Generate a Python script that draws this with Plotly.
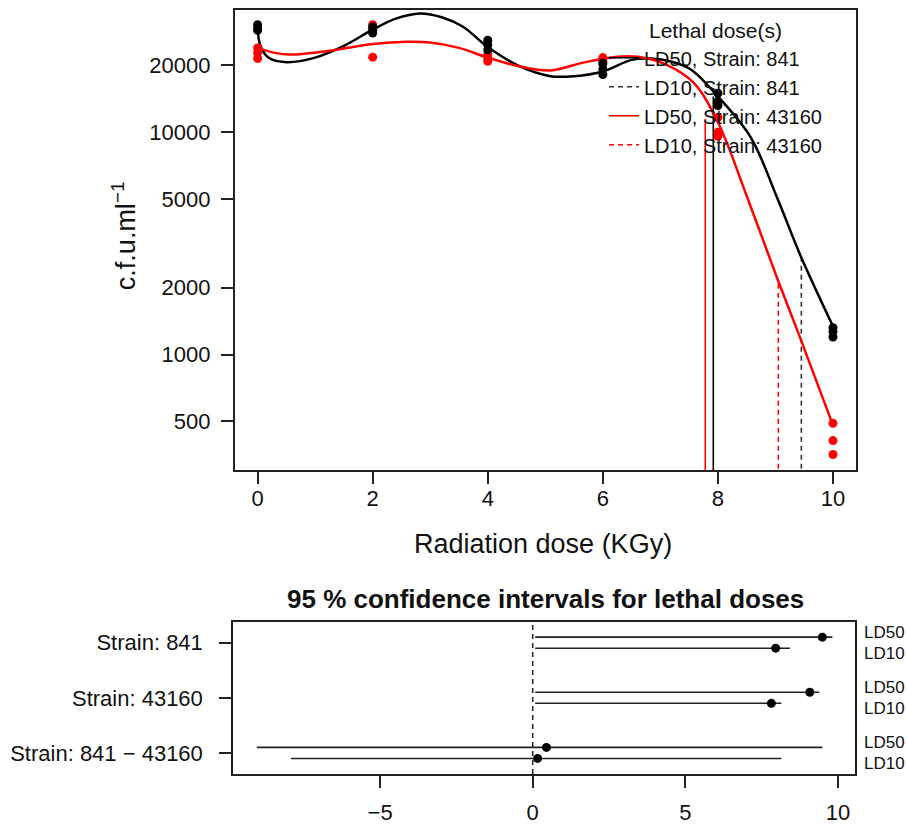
import plotly.graph_objects as go

FONT = "Liberation Sans, Arial, sans-serif"

# --- top panel: survival counts (c.f.u./ml) vs radiation dose
dose = [0, 0, 0, 2, 2, 2, 4, 4, 4, 6, 6, 6, 8, 8, 8, 10, 10, 10]
cfu_841 = [30500, 29500, 28800, 29800, 28800, 28000, 26000, 24800, 23500,
           20500, 19300, 18200, 15000, 13800, 13200, 1320, 1270, 1200]
cfu_43160 = [24000, 22800, 21500, 30500, 29500, 21800, 22400, 21600, 20900,
             21700, 20900, 20300, 11700, 10000, 9600, 490, 410, 355]

# fitted curves
fit_x_841 = [0, 0.05, 0.2, 0.5, 1.0, 1.5, 2.0, 2.4, 2.82, 3.2, 3.57, 4.0, 4.56,
             5.09, 5.5, 6.0, 6.5, 6.83, 7.2, 7.53, 8.0, 8.57, 9.04, 9.44, 10.0]
fit_y_841 = [29500, 24500, 21600, 20700, 21700, 24500, 29000, 32500, 34300, 33000,
             29900, 24200, 19800, 17900, 17900, 18800, 21200, 21500, 20800, 19200,
             14500, 9500, 5000, 2770, 1340]
fit_x_43160 = [0, 0.3, 0.56, 1.25, 2.0, 2.6, 3.0, 3.5, 4.0, 4.56, 5.09, 5.66, 6.25,
               6.6, 7.1, 7.58, 8.0, 8.52, 9.04, 9.44, 10.0]
fit_y_43160 = [24000, 22800, 22400, 23300, 25000, 25600, 25400, 24000, 21700, 19800,
               19000, 20600, 21900, 21900, 20200, 16700, 11100, 5010, 2170, 1170, 480]

# lethal doses drawn as vertical lines
ld_names = ["LD50, Strain: 841", "LD10, Strain: 841",
            "LD50, Strain: 43160", "LD10, Strain: 43160"]
ld_x = [7.92, 9.45, 7.78, 9.05]
ld_top = [14500, 2700, 11500, 2100]
ld_color = ["black", "#333333", "red", "red"]
ld_dash = ["solid", "5px,4px", "solid", "5px,4px"]

y_ticks = [500, 1000, 2000, 5000, 10000, 20000]

# --- bottom panel: 95 % confidence intervals
strains = ["Strain: 841", "Strain: 43160", "Strain: 841 \u2212 43160"]
ld50_est = [9.49, 9.08, 0.45]
ld50_lo = [0.08, 0.08, -9.04]
ld50_hi = [9.82, 9.39, 9.49]
ld10_est = [7.96, 7.82, 0.16]
ld10_lo = [0.08, 0.08, -7.92]
ld10_hi = [8.43, 8.15, 8.15]

W, H = 907, 825
def px(x):
    return x / W
def py(y):
    return 1 - y / H

fig = go.Figure()

# vertical LD lines (also the legend)
for i in range(4):
    fig.add_trace(go.Scatter(
        x=[ld_x[i], ld_x[i]], y=[100, ld_top[i]], mode="lines",
        name=ld_names[i], line=dict(color=ld_color[i], width=1.6, dash=ld_dash[i]),
        xaxis="x", yaxis="y"))

# fitted curves
fig.add_trace(go.Scatter(x=fit_x_841, y=fit_y_841, mode="lines", showlegend=False,
                         line=dict(color="black", width=2.5, shape="spline", smoothing=1.0)))
fig.add_trace(go.Scatter(x=fit_x_43160, y=fit_y_43160, mode="lines", showlegend=False,
                         line=dict(color="red", width=2.5, shape="spline", smoothing=1.0)))

# observations
fig.add_trace(go.Scatter(x=dose, y=cfu_43160, mode="markers", showlegend=False,
                         marker=dict(color="red", size=9)))
fig.add_trace(go.Scatter(x=dose, y=cfu_841, mode="markers", showlegend=False,
                         marker=dict(color="black", size=9)))

# confidence intervals
grp = [1, 2, 3]
pos50 = [g - 0.1 for g in grp]
pos10 = [g + 0.1 for g in grp]
for est, lo, hi, pos in [(ld50_est, ld50_lo, ld50_hi, pos50), (ld10_est, ld10_lo, ld10_hi, pos10)]:
    fig.add_trace(go.Scatter(
        x=est, y=pos, mode="markers", showlegend=False, xaxis="x2", yaxis="y3",
        marker=dict(color="black", size=9),
        error_x=dict(type="data", symmetric=False,
                     array=[h - e for h, e in zip(hi, est)],
                     arrayminus=[e - l for e, l in zip(est, lo)],
                     width=0, thickness=1.6, color="#222222")))

# right-hand LD labels
lab_pos = []
lab_txt = []
for g in grp:
    lab_pos += [g - 0.19, g + 0.19]
    lab_txt += ["LD50", "LD10"]
fig.add_trace(go.Scatter(x=[0] * len(lab_pos), y=lab_pos, mode="markers", opacity=0,
                         showlegend=False, xaxis="x2", yaxis="y4", hoverinfo="skip"))

fig.add_shape(type="line", x0=0, x1=0, y0=0, y1=1, xref="x2", yref="y3 domain",
              line=dict(color="#222222", width=1.5, dash="5px,4px"))

axis_common = dict(showgrid=False, zeroline=False, showline=True, mirror=True,
                   linecolor="#222222", linewidth=1.5, ticks="outside", ticklen=12,
                   tickwidth=1.5, tickcolor="#222222",
                   tickfont=dict(family=FONT, size=22, color="#111111"))

fig.update_layout(
    width=W, height=H,
    margin=dict(l=0, r=0, t=0, b=0),
    paper_bgcolor="white", plot_bgcolor="white",
    font=dict(family=FONT, color="#111111"),
    xaxis=dict(axis_common, domain=[px(234.6), px(856)], range=[-0.4, 10.4],
               tickvals=[0, 2, 4, 6, 8, 10], anchor="y", ticklabelstandoff=-4),
    yaxis=dict(axis_common, domain=[py(472), py(10)], type="log", range=[2.479, 4.551],
               tickvals=y_ticks, ticktext=[str(v) for v in y_ticks], anchor="x",
               ticklabelstandoff=6),
    xaxis2=dict(axis_common, domain=[px(233), px(855)], range=[-9.82, 10.56],
                tickvals=[-5, 0, 5, 10], anchor="y3", ticklabelstandoff=6),
    yaxis3=dict(axis_common, domain=[py(776.7), py(624)], range=[3.38, 0.62],
                tickvals=grp, ticktext=strains, anchor="x2", ticklabelstandoff=12),
    yaxis4=dict(overlaying="y3", side="right", anchor="x2", range=[3.38, 0.62],
                showgrid=False, zeroline=False, showline=False, ticks="",
                tickvals=lab_pos, ticktext=lab_txt, ticklabelstandoff=8,
                tickfont=dict(family=FONT, size=17, color="#111111")),
    legend=dict(x=px(604), y=py(11), xanchor="left", yanchor="top",
                bgcolor="rgba(0,0,0,0)", borderwidth=0,
                font=dict(family=FONT, size=20, color="#111111"),
                title=dict(text="Lethal dose(s)", side="top center",
                           font=dict(family=FONT, size=21, color="#111111"))),
    annotations=[
        dict(text="c.f.u.ml<sup>\u22121</sup>", x=px(124), y=py(237),
             xref="paper", yref="paper", xanchor="center", yanchor="middle",
             textangle=-90, showarrow=False,
             font=dict(family=FONT, size=27, color="#111111")),
        dict(text="Radiation dose (KGy)", x=px(543), y=py(546),
             xref="paper", yref="paper", xanchor="center", yanchor="middle",
             showarrow=False, font=dict(family=FONT, size=27, color="#111111")),
        dict(text="<b>95 % confidence intervals for lethal doses</b>", x=px(545),
             y=py(601), xref="paper", yref="paper", xanchor="center", yanchor="middle",
             showarrow=False, font=dict(family=FONT, size=26, color="#111111")),
    ],
)

# drop the default page margin so the 907x825 figure fills the window exactly
fig.write_html("out.html", config={"displayModeBar": False},
               post_script="document.body.style.margin='0';document.body.style.overflow='hidden';")
